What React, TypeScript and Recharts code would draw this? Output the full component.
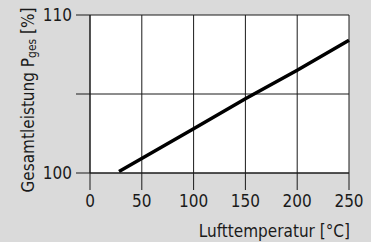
import { LineChart, Line, XAxis, YAxis, CartesianGrid, Label } from "recharts";

// Lufttemperatur [°C] vs. Gesamtleistung P_ges [%]
const TEMPS = [28, 100, 150, 200, 250];
const POWER = [100.1, 102.8, 104.7, 106.5, 108.4];
const X_TICKS = [0, 50, 100, 150, 200, 250];
const Y_TICKS = [100, 105, 110];
const Y_LABELED = [100, 110];

const data = TEMPS.map((t, i) => ({ t, p: POWER[i] }));

const FONT = "'DejaVu Sans Condensed', 'DejaVu Sans', sans-serif";
const INK = "#1a1a1a";
const tickStyle = { fontSize: 17, fontFamily: FONT, fill: INK, fontStretch: "condensed" };

function YTitle({ viewBox }: any) {
  const cx = 28;
  const cy = (viewBox?.y ?? 15) + (viewBox?.height ?? 158) / 2 + 6;
  return (
    <text
      x={cx}
      y={cy}
      transform={`rotate(-90 ${cx} ${cy})`}
      textAnchor="middle"
      dominantBaseline="central"
      fontSize={17}
      fontFamily={FONT}
      style={{ fontStretch: "condensed" }}
      fill={INK}
    >
      <tspan>Gesamtleistung P</tspan>
      <tspan dy={4} fontSize={12}>ges</tspan>
      <tspan dy={-4}> [%]</tspan>
    </text>
  );
}

function XTitle({ viewBox }: any) {
  const right = (viewBox?.x ?? 90) + (viewBox?.width ?? 259) + 1;
  return (
    <text
      x={right}
      y={237}
      textAnchor="end"
      fontSize={17}
      fontFamily={FONT}
      style={{ fontStretch: "condensed" }}
      fill={INK}
    >
      Lufttemperatur [°C]
    </text>
  );
}

export default function App() {
  return (
    <div style={{ position: "fixed", left: 0, top: 0, width: 371, height: 242, background: "#dadada" }}>
      <LineChart width={371} height={242} data={data} margin={{ top: 15, right: 22, left: 0, bottom: 0 }}>
        <CartesianGrid stroke={INK} strokeWidth={1} fill="#ffffff" fillOpacity={1} />
        <XAxis
          type="number"
          dataKey="t"
          domain={[0, 250]}
          ticks={X_TICKS}
          height={69}
          tickSize={17}
          tickMargin={5}
          stroke={INK}
          tick={tickStyle}
          axisLine={{ stroke: INK }}
        >
          <Label content={<XTitle />} />
        </XAxis>
        <YAxis
          type="number"
          domain={[100, 110]}
          ticks={Y_TICKS}
          width={90}
          tickSize={14}
          tickMargin={4}
          stroke={INK}
          tick={tickStyle}
          tickFormatter={(v: number) => (Y_LABELED.includes(v) ? String(v) : "")}
          axisLine={{ stroke: INK }}
        >
          <Label content={<YTitle />} />
        </YAxis>
        <Line
          type="linear"
          dataKey="p"
          stroke="#000000"
          strokeWidth={3.5}
          dot={false}
          isAnimationActive={false}
        />
      </LineChart>
    </div>
  );
}
